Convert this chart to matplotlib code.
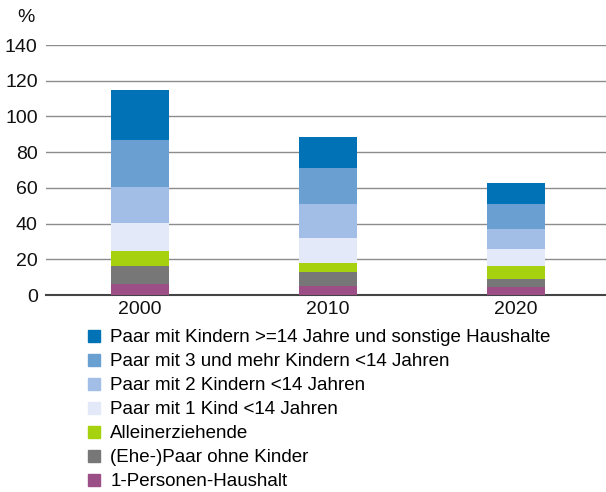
import numpy as np
import matplotlib
matplotlib.use("Agg")
from matplotlib import pyplot as plt
from matplotlib.lines import Line2D

plt.rcParams['font.family'] = ['Liberation Sans', 'DejaVu Sans']

years = ["2000", "2010", "2020"]
labels = ["1-Personen-Haushalt",
          "(Ehe-)Paar ohne Kinder",
          "Alleinerziehende",
          "Paar mit 1 Kind <14 Jahren",
          "Paar mit 2 Kindern <14 Jahren",
          "Paar mit 3 und mehr Kindern <14 Jahren",
          "Paar mit Kindern >=14 Jahre und sonstige Haushalte"]
einpersonen = [6.0, 5.0, 4.5]
paar_ohne = [10.4, 7.7, 4.6]
alleinerz = [8.2, 5.4, 7.1]
ein_kind = [15.5, 14.0, 9.6]
zwei_kinder = [20.2, 18.8, 11.2]
drei_kinder = [26.5, 20.0, 13.9]
sonstige = [28.0, 17.7, 11.6]
series = [einpersonen, paar_ohne, alleinerz, ein_kind, zwei_kinder, drei_kinder, sonstige]
colors = ["#9b4f86", "#777777", "#a5d10f", "#e3e9f8", "#a2bde6", "#6a9fd2", "#0072b5"]

fig = plt.figure(figsize=(6.06, 4.92), dpi=100)
ax = fig.add_axes([46/606, 1-295/492, 1-46/606, 250/492])

x = np.arange(len(years))
bottom = np.zeros(len(years))
for vals, c in zip(series, colors):
    ax.bar(x, vals, 0.31, bottom=bottom, color=c, zorder=3)
    bottom += np.array(vals)

ax.set_ylim(0, 140)
ax.set_xlim(-0.5, 2.48)
ax.set_yticks(np.arange(0, 141, 20))
ax.set_xticks(x)
ax.set_xticklabels(years)
ax.tick_params(length=0, labelsize=14, colors="#111111")
ax.tick_params(axis='y', pad=6)
ax.tick_params(axis='x', pad=4)
for s in ["top", "right", "left"]:
    ax.spines[s].set_visible(False)
ax.spines["bottom"].set_color("#444444")
ax.spines["bottom"].set_linewidth(1.5)
ax.yaxis.grid(True, color="#8c8c8c", linewidth=1.0, zorder=0)
ax.set_axisbelow(True)
fig.text(17/606, 1-18/492, "%", fontsize=14, ha="left", va="center", color="#111111")

handles = [Line2D([], [], marker='s', linestyle='none', markersize=8,
                  markerfacecolor=c, markeredgecolor=c) for c in colors]
fig.legend(handles[::-1], labels[::-1], loc="upper left",
           bbox_to_anchor=(86/606, 1-329/492), frameon=False, fontsize=13.5,
           handlelength=0.8, handletextpad=0.5, labelspacing=0.37,
           borderpad=0, borderaxespad=0)

fig.savefig("out.png", dpi=100)
